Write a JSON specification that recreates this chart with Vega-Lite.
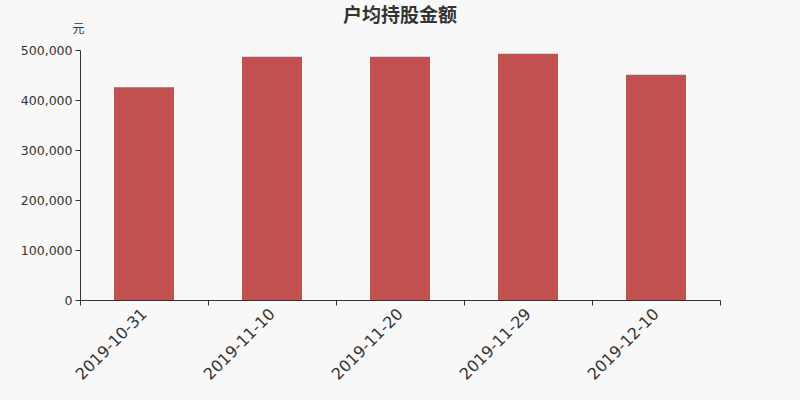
{
  "$schema": "https://vega.github.io/schema/vega-lite/v6.json",
  "width": 640,
  "height": 250,
  "autosize": {"type": "none"},
  "padding": {"left": 80, "top": 50, "right": 80, "bottom": 100},
  "background": "#f8f8f8",
  "title": {
    "text": "户均持股金额",
    "font": "Noto Sans CJK SC",
    "fontSize": 19,
    "fontWeight": "bold",
    "color": "#333333",
    "anchor": "middle",
    "frame": "group",
    "offset": -4
  },
  "config": {"view": {"stroke": null}},
  "data": {
    "values": [
      {"date": "2019-10-31", "value": 425400},
      {"date": "2019-11-10", "value": 486600},
      {"date": "2019-11-20", "value": 486600},
      {"date": "2019-11-29", "value": 492600},
      {"date": "2019-12-10", "value": 450600}
    ]
  },
  "mark": {"type": "bar", "color": "#c1504f", "width": {"band": 0.46875}},
  "encoding": {
    "x": {
      "field": "date",
      "type": "nominal",
      "sort": null,
      "scale": {"paddingInner": 0, "paddingOuter": 0},
      "axis": {
        "title": null,
        "tickBand": "extent",
        "labelAngle": -45,
        "labelAlign": "right",
        "labelBaseline": "middle",
        "labelFont": "DejaVu Sans",
        "labelFontSize": 16,
        "labelColor": "#333333",
        "labelPadding": 6,
        "domainColor": "#333333",
        "tickColor": "#333333",
        "tickSize": 5
      }
    },
    "y": {
      "field": "value",
      "type": "quantitative",
      "scale": {"domain": [0, 500000], "nice": false},
      "axis": {
        "title": "元",
        "titleAngle": 0,
        "titleX": -2,
        "titleY": -22,
        "titleAlign": "center",
        "titleBaseline": "middle",
        "titleFont": "Noto Sans CJK SC",
        "titleFontSize": 12,
        "titleFontWeight": "normal",
        "titleColor": "#333333",
        "values": [0, 100000, 200000, 300000, 400000, 500000],
        "format": ",d",
        "grid": false,
        "labelFont": "DejaVu Sans",
        "labelFontSize": 12.5,
        "labelColor": "#333333",
        "labelPadding": 3,
        "domainColor": "#333333",
        "tickColor": "#333333",
        "tickSize": 5
      }
    }
  }
}
